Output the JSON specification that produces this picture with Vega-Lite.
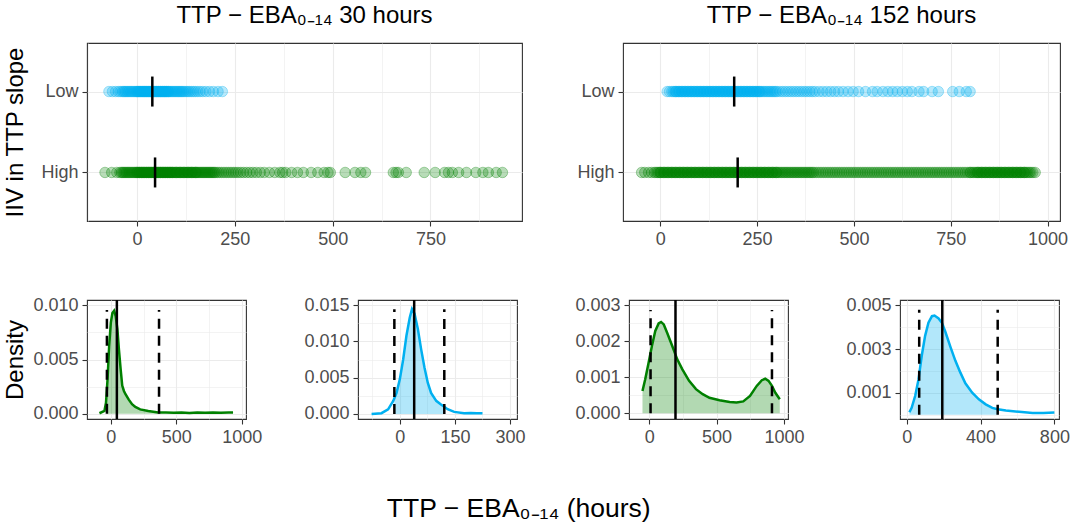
{
  "$schema": "https://vega.github.io/schema/vega-lite/v6.json",
  "background": "white",
  "padding": {"left": 3, "top": 3, "right": 0, "bottom": 0},
  "title": {"text": "TTP − EBA₀₋₁₄ (hours)", "orient": "bottom", "anchor": "middle", "offset": 49, "dx": -18, "fontSize": 26.5, "fontWeight": "normal", "font": "Liberation Sans", "color": "#000000"},
  "datasets": {
    "tl": [{"iiv":"Low","ttp":-72},{"iiv":"Low","ttp":-63},{"iiv":"Low","ttp":-55},{"iiv":"Low","ttp":-48},{"iiv":"Low","ttp":-43},{"iiv":"Low","ttp":-38},
      {"iiv":"Low","ttp":-35},{"iiv":"Low","ttp":-32},{"iiv":"Low","ttp":-29},{"iiv":"Low","ttp":-26},{"iiv":"Low","ttp":-23},{"iiv":"Low","ttp":-20},{"iiv":"Low","ttp":-17},{"iiv":"Low","ttp":-14},{"iiv":"Low","ttp":-11},{"iiv":"Low","ttp":-8},{"iiv":"Low","ttp":-5},{"iiv":"Low","ttp":-2},{"iiv":"Low","ttp":1},{"iiv":"Low","ttp":4},{"iiv":"Low","ttp":7},{"iiv":"Low","ttp":10},{"iiv":"Low","ttp":13},{"iiv":"Low","ttp":16},{"iiv":"Low","ttp":19},{"iiv":"Low","ttp":22},{"iiv":"Low","ttp":25},{"iiv":"Low","ttp":28},{"iiv":"Low","ttp":31},{"iiv":"Low","ttp":34},{"iiv":"Low","ttp":37},{"iiv":"Low","ttp":40},{"iiv":"Low","ttp":43},{"iiv":"Low","ttp":46},{"iiv":"Low","ttp":49},{"iiv":"Low","ttp":52},{"iiv":"Low","ttp":55},{"iiv":"Low","ttp":58},{"iiv":"Low","ttp":61},{"iiv":"Low","ttp":64},{"iiv":"Low","ttp":67},{"iiv":"Low","ttp":70},{"iiv":"Low","ttp":73},{"iiv":"Low","ttp":76},{"iiv":"Low","ttp":79},{"iiv":"Low","ttp":82},{"iiv":"Low","ttp":85},{"iiv":"Low","ttp":88},{"iiv":"Low","ttp":91},{"iiv":"Low","ttp":94},{"iiv":"Low","ttp":97},{"iiv":"Low","ttp":100},{"iiv":"Low","ttp":103},{"iiv":"Low","ttp":106},{"iiv":"Low","ttp":109},{"iiv":"Low","ttp":112},{"iiv":"Low","ttp":115},{"iiv":"Low","ttp":118},
      {"iiv":"Low","ttp":0},{"iiv":"Low","ttp":5},{"iiv":"Low","ttp":10},{"iiv":"Low","ttp":15},{"iiv":"Low","ttp":20},{"iiv":"Low","ttp":25},{"iiv":"Low","ttp":30},{"iiv":"Low","ttp":35},{"iiv":"Low","ttp":40},{"iiv":"Low","ttp":45},{"iiv":"Low","ttp":50},{"iiv":"Low","ttp":55},{"iiv":"Low","ttp":60},{"iiv":"Low","ttp":65},{"iiv":"Low","ttp":70},{"iiv":"Low","ttp":75},{"iiv":"Low","ttp":80},
      {"iiv":"Low","ttp":122},{"iiv":"Low","ttp":126},{"iiv":"Low","ttp":130},{"iiv":"Low","ttp":134},{"iiv":"Low","ttp":139},{"iiv":"Low","ttp":144},{"iiv":"Low","ttp":149},{"iiv":"Low","ttp":155},{"iiv":"Low","ttp":161},{"iiv":"Low","ttp":168},{"iiv":"Low","ttp":176},{"iiv":"Low","ttp":185},{"iiv":"Low","ttp":195},{"iiv":"Low","ttp":207},{"iiv":"Low","ttp":218},
      {"iiv":"High","ttp":-82},{"iiv":"High","ttp":-65},{"iiv":"High","ttp":-52},{"iiv":"High","ttp":-44},
      {"iiv":"High","ttp":-40},{"iiv":"High","ttp":-37},{"iiv":"High","ttp":-34},{"iiv":"High","ttp":-31},{"iiv":"High","ttp":-28},{"iiv":"High","ttp":-25},{"iiv":"High","ttp":-22},{"iiv":"High","ttp":-19},{"iiv":"High","ttp":-16},{"iiv":"High","ttp":-13},{"iiv":"High","ttp":-10},{"iiv":"High","ttp":-7},{"iiv":"High","ttp":-4},{"iiv":"High","ttp":-1},{"iiv":"High","ttp":2},{"iiv":"High","ttp":5},{"iiv":"High","ttp":8},{"iiv":"High","ttp":11},{"iiv":"High","ttp":14},{"iiv":"High","ttp":17},{"iiv":"High","ttp":20},{"iiv":"High","ttp":23},{"iiv":"High","ttp":26},{"iiv":"High","ttp":29},{"iiv":"High","ttp":32},{"iiv":"High","ttp":35},{"iiv":"High","ttp":38},{"iiv":"High","ttp":41},{"iiv":"High","ttp":44},{"iiv":"High","ttp":47},{"iiv":"High","ttp":50},{"iiv":"High","ttp":53},{"iiv":"High","ttp":56},{"iiv":"High","ttp":59},{"iiv":"High","ttp":62},{"iiv":"High","ttp":65},{"iiv":"High","ttp":68},{"iiv":"High","ttp":71},{"iiv":"High","ttp":74},{"iiv":"High","ttp":77},{"iiv":"High","ttp":80},{"iiv":"High","ttp":83},{"iiv":"High","ttp":86},{"iiv":"High","ttp":89},{"iiv":"High","ttp":92},{"iiv":"High","ttp":95},{"iiv":"High","ttp":98},{"iiv":"High","ttp":101},{"iiv":"High","ttp":104},{"iiv":"High","ttp":107},{"iiv":"High","ttp":110},{"iiv":"High","ttp":113},{"iiv":"High","ttp":116},{"iiv":"High","ttp":119},{"iiv":"High","ttp":122},{"iiv":"High","ttp":125},{"iiv":"High","ttp":128},{"iiv":"High","ttp":131},{"iiv":"High","ttp":134},{"iiv":"High","ttp":137},{"iiv":"High","ttp":140},{"iiv":"High","ttp":143},{"iiv":"High","ttp":146},{"iiv":"High","ttp":149},{"iiv":"High","ttp":152},{"iiv":"High","ttp":155},{"iiv":"High","ttp":158},{"iiv":"High","ttp":161},{"iiv":"High","ttp":164},{"iiv":"High","ttp":167},{"iiv":"High","ttp":170},{"iiv":"High","ttp":173},{"iiv":"High","ttp":176},{"iiv":"High","ttp":179},{"iiv":"High","ttp":182},{"iiv":"High","ttp":185},{"iiv":"High","ttp":188},{"iiv":"High","ttp":191},{"iiv":"High","ttp":194},{"iiv":"High","ttp":197},{"iiv":"High","ttp":200},
      {"iiv":"High","ttp":0},{"iiv":"High","ttp":6},{"iiv":"High","ttp":12},{"iiv":"High","ttp":18},{"iiv":"High","ttp":24},{"iiv":"High","ttp":30},{"iiv":"High","ttp":36},{"iiv":"High","ttp":42},{"iiv":"High","ttp":48},{"iiv":"High","ttp":54},{"iiv":"High","ttp":60},{"iiv":"High","ttp":66},{"iiv":"High","ttp":72},{"iiv":"High","ttp":78},{"iiv":"High","ttp":84},{"iiv":"High","ttp":90},{"iiv":"High","ttp":100},{"iiv":"High","ttp":110},{"iiv":"High","ttp":120},{"iiv":"High","ttp":130},{"iiv":"High","ttp":140},{"iiv":"High","ttp":150},
      {"iiv":"High","ttp":205},{"iiv":"High","ttp":210},{"iiv":"High","ttp":216},{"iiv":"High","ttp":222},{"iiv":"High","ttp":228},{"iiv":"High","ttp":234},{"iiv":"High","ttp":240},{"iiv":"High","ttp":246},{"iiv":"High","ttp":252},{"iiv":"High","ttp":258},{"iiv":"High","ttp":265},
      {"iiv":"High","ttp":272},{"iiv":"High","ttp":280},{"iiv":"High","ttp":288},{"iiv":"High","ttp":296},{"iiv":"High","ttp":305},{"iiv":"High","ttp":315},{"iiv":"High","ttp":325},{"iiv":"High","ttp":338},{"iiv":"High","ttp":352},{"iiv":"High","ttp":365},{"iiv":"High","ttp":372},{"iiv":"High","ttp":380},{"iiv":"High","ttp":395},{"iiv":"High","ttp":410},{"iiv":"High","ttp":425},{"iiv":"High","ttp":445},{"iiv":"High","ttp":462},{"iiv":"High","ttp":478},{"iiv":"High","ttp":488},{"iiv":"High","ttp":494},{"iiv":"High","ttp":532},{"iiv":"High","ttp":557},{"iiv":"High","ttp":572},{"iiv":"High","ttp":584},{"iiv":"High","ttp":655},{"iiv":"High","ttp":662},{"iiv":"High","ttp":668},{"iiv":"High","ttp":688},{"iiv":"High","ttp":734},{"iiv":"High","ttp":762},{"iiv":"High","ttp":786},{"iiv":"High","ttp":796},{"iiv":"High","ttp":806},{"iiv":"High","ttp":822},{"iiv":"High","ttp":842},{"iiv":"High","ttp":866},{"iiv":"High","ttp":884},{"iiv":"High","ttp":898},{"iiv":"High","ttp":918},{"iiv":"High","ttp":934}],
    "tr": [{"iiv":"Low","ttp":18},{"iiv":"Low","ttp":24},
      {"iiv":"Low","ttp":30},{"iiv":"Low","ttp":34},{"iiv":"Low","ttp":38},{"iiv":"Low","ttp":42},{"iiv":"Low","ttp":46},{"iiv":"Low","ttp":50},{"iiv":"Low","ttp":54},{"iiv":"Low","ttp":58},{"iiv":"Low","ttp":62},{"iiv":"Low","ttp":66},{"iiv":"Low","ttp":70},{"iiv":"Low","ttp":74},{"iiv":"Low","ttp":78},{"iiv":"Low","ttp":82},{"iiv":"Low","ttp":86},{"iiv":"Low","ttp":90},{"iiv":"Low","ttp":94},{"iiv":"Low","ttp":98},{"iiv":"Low","ttp":102},{"iiv":"Low","ttp":106},{"iiv":"Low","ttp":110},{"iiv":"Low","ttp":114},{"iiv":"Low","ttp":118},{"iiv":"Low","ttp":122},{"iiv":"Low","ttp":126},{"iiv":"Low","ttp":130},{"iiv":"Low","ttp":134},{"iiv":"Low","ttp":138},{"iiv":"Low","ttp":142},{"iiv":"Low","ttp":146},{"iiv":"Low","ttp":150},{"iiv":"Low","ttp":154},{"iiv":"Low","ttp":158},{"iiv":"Low","ttp":162},{"iiv":"Low","ttp":166},{"iiv":"Low","ttp":170},{"iiv":"Low","ttp":174},{"iiv":"Low","ttp":178},{"iiv":"Low","ttp":182},{"iiv":"Low","ttp":186},{"iiv":"Low","ttp":190},{"iiv":"Low","ttp":194},{"iiv":"Low","ttp":198},{"iiv":"Low","ttp":202},{"iiv":"Low","ttp":206},{"iiv":"Low","ttp":210},{"iiv":"Low","ttp":214},{"iiv":"Low","ttp":218},{"iiv":"Low","ttp":222},{"iiv":"Low","ttp":226},{"iiv":"Low","ttp":230},{"iiv":"Low","ttp":234},{"iiv":"Low","ttp":238},{"iiv":"Low","ttp":242},{"iiv":"Low","ttp":246},{"iiv":"Low","ttp":250},{"iiv":"Low","ttp":254},{"iiv":"Low","ttp":258},{"iiv":"Low","ttp":262},{"iiv":"Low","ttp":266},{"iiv":"Low","ttp":270},{"iiv":"Low","ttp":274},{"iiv":"Low","ttp":278},{"iiv":"Low","ttp":282},{"iiv":"Low","ttp":286},{"iiv":"Low","ttp":290},{"iiv":"Low","ttp":294},{"iiv":"Low","ttp":298},
      {"iiv":"Low","ttp":40},{"iiv":"Low","ttp":48},{"iiv":"Low","ttp":56},{"iiv":"Low","ttp":64},{"iiv":"Low","ttp":72},{"iiv":"Low","ttp":80},{"iiv":"Low","ttp":88},{"iiv":"Low","ttp":96},{"iiv":"Low","ttp":104},{"iiv":"Low","ttp":112},{"iiv":"Low","ttp":120},{"iiv":"Low","ttp":128},{"iiv":"Low","ttp":136},{"iiv":"Low","ttp":144},{"iiv":"Low","ttp":152},{"iiv":"Low","ttp":160},{"iiv":"Low","ttp":168},{"iiv":"Low","ttp":176},{"iiv":"Low","ttp":184},{"iiv":"Low","ttp":192},{"iiv":"Low","ttp":200},{"iiv":"Low","ttp":208},{"iiv":"Low","ttp":216},{"iiv":"Low","ttp":224},{"iiv":"Low","ttp":232},{"iiv":"Low","ttp":240},{"iiv":"Low","ttp":248},{"iiv":"Low","ttp":256},
      {"iiv":"Low","ttp":302},{"iiv":"Low","ttp":309},{"iiv":"Low","ttp":316},{"iiv":"Low","ttp":323},{"iiv":"Low","ttp":330},{"iiv":"Low","ttp":337},{"iiv":"Low","ttp":344},{"iiv":"Low","ttp":351},{"iiv":"Low","ttp":358},{"iiv":"Low","ttp":365},{"iiv":"Low","ttp":372},{"iiv":"Low","ttp":379},{"iiv":"Low","ttp":386},{"iiv":"Low","ttp":393},{"iiv":"Low","ttp":400},{"iiv":"Low","ttp":410},{"iiv":"Low","ttp":420},{"iiv":"Low","ttp":430},{"iiv":"Low","ttp":440},{"iiv":"Low","ttp":450},{"iiv":"Low","ttp":460},
      {"iiv":"Low","ttp":472},{"iiv":"Low","ttp":485},{"iiv":"Low","ttp":498},{"iiv":"Low","ttp":512},{"iiv":"Low","ttp":530},{"iiv":"Low","ttp":548},{"iiv":"Low","ttp":560},{"iiv":"Low","ttp":575},{"iiv":"Low","ttp":588},{"iiv":"Low","ttp":600},{"iiv":"Low","ttp":612},{"iiv":"Low","ttp":625},{"iiv":"Low","ttp":638},{"iiv":"Low","ttp":650},{"iiv":"Low","ttp":668},{"iiv":"Low","ttp":680},{"iiv":"Low","ttp":702},{"iiv":"Low","ttp":718},{"iiv":"Low","ttp":755},{"iiv":"Low","ttp":772},{"iiv":"Low","ttp":790},{"iiv":"Low","ttp":800},
      {"iiv":"High","ttp":-48},{"iiv":"High","ttp":-40},{"iiv":"High","ttp":-30},{"iiv":"High","ttp":-22},
      {"iiv":"High","ttp":-15},{"iiv":"High","ttp":-11},{"iiv":"High","ttp":-7},{"iiv":"High","ttp":-3},{"iiv":"High","ttp":1},{"iiv":"High","ttp":5},{"iiv":"High","ttp":9},{"iiv":"High","ttp":13},{"iiv":"High","ttp":17},{"iiv":"High","ttp":21},{"iiv":"High","ttp":25},{"iiv":"High","ttp":29},{"iiv":"High","ttp":33},{"iiv":"High","ttp":37},{"iiv":"High","ttp":41},{"iiv":"High","ttp":45},{"iiv":"High","ttp":49},{"iiv":"High","ttp":53},{"iiv":"High","ttp":57},{"iiv":"High","ttp":61},{"iiv":"High","ttp":65},{"iiv":"High","ttp":69},{"iiv":"High","ttp":73},{"iiv":"High","ttp":77},{"iiv":"High","ttp":81},{"iiv":"High","ttp":85},{"iiv":"High","ttp":89},{"iiv":"High","ttp":93},{"iiv":"High","ttp":97},{"iiv":"High","ttp":101},{"iiv":"High","ttp":105},{"iiv":"High","ttp":109},{"iiv":"High","ttp":113},{"iiv":"High","ttp":117},{"iiv":"High","ttp":121},{"iiv":"High","ttp":125},{"iiv":"High","ttp":129},{"iiv":"High","ttp":133},{"iiv":"High","ttp":137},{"iiv":"High","ttp":141},{"iiv":"High","ttp":145},{"iiv":"High","ttp":149},{"iiv":"High","ttp":153},{"iiv":"High","ttp":157},{"iiv":"High","ttp":161},{"iiv":"High","ttp":165},{"iiv":"High","ttp":169},{"iiv":"High","ttp":173},{"iiv":"High","ttp":177},{"iiv":"High","ttp":181},{"iiv":"High","ttp":185},{"iiv":"High","ttp":189},{"iiv":"High","ttp":193},{"iiv":"High","ttp":197},{"iiv":"High","ttp":201},{"iiv":"High","ttp":205},{"iiv":"High","ttp":209},{"iiv":"High","ttp":213},{"iiv":"High","ttp":217},{"iiv":"High","ttp":221},{"iiv":"High","ttp":225},{"iiv":"High","ttp":229},{"iiv":"High","ttp":233},{"iiv":"High","ttp":237},{"iiv":"High","ttp":241},{"iiv":"High","ttp":245},{"iiv":"High","ttp":249},{"iiv":"High","ttp":253},{"iiv":"High","ttp":257},{"iiv":"High","ttp":261},{"iiv":"High","ttp":265},{"iiv":"High","ttp":269},{"iiv":"High","ttp":273},{"iiv":"High","ttp":277},{"iiv":"High","ttp":281},{"iiv":"High","ttp":285},{"iiv":"High","ttp":289},{"iiv":"High","ttp":293},{"iiv":"High","ttp":297},{"iiv":"High","ttp":301},{"iiv":"High","ttp":305},{"iiv":"High","ttp":309},{"iiv":"High","ttp":313},{"iiv":"High","ttp":317},{"iiv":"High","ttp":321},{"iiv":"High","ttp":325},{"iiv":"High","ttp":329},{"iiv":"High","ttp":333},{"iiv":"High","ttp":337},{"iiv":"High","ttp":341},{"iiv":"High","ttp":345},{"iiv":"High","ttp":349},{"iiv":"High","ttp":353},{"iiv":"High","ttp":357},{"iiv":"High","ttp":361},{"iiv":"High","ttp":365},{"iiv":"High","ttp":369},{"iiv":"High","ttp":373},{"iiv":"High","ttp":377},{"iiv":"High","ttp":381},{"iiv":"High","ttp":385},{"iiv":"High","ttp":389},{"iiv":"High","ttp":393},{"iiv":"High","ttp":397},
      {"iiv":"High","ttp":0},{"iiv":"High","ttp":10},{"iiv":"High","ttp":20},{"iiv":"High","ttp":30},{"iiv":"High","ttp":40},{"iiv":"High","ttp":50},{"iiv":"High","ttp":60},{"iiv":"High","ttp":70},{"iiv":"High","ttp":80},{"iiv":"High","ttp":90},{"iiv":"High","ttp":100},{"iiv":"High","ttp":110},{"iiv":"High","ttp":120},{"iiv":"High","ttp":130},{"iiv":"High","ttp":140},{"iiv":"High","ttp":150},{"iiv":"High","ttp":160},{"iiv":"High","ttp":170},{"iiv":"High","ttp":180},{"iiv":"High","ttp":190},{"iiv":"High","ttp":200},{"iiv":"High","ttp":210},{"iiv":"High","ttp":220},{"iiv":"High","ttp":230},{"iiv":"High","ttp":240},{"iiv":"High","ttp":250},{"iiv":"High","ttp":260},{"iiv":"High","ttp":270},{"iiv":"High","ttp":280},{"iiv":"High","ttp":290},{"iiv":"High","ttp":300},
      {"iiv":"High","ttp":403},{"iiv":"High","ttp":409},{"iiv":"High","ttp":415},{"iiv":"High","ttp":421},{"iiv":"High","ttp":427},{"iiv":"High","ttp":433},{"iiv":"High","ttp":439},{"iiv":"High","ttp":445},{"iiv":"High","ttp":451},{"iiv":"High","ttp":457},{"iiv":"High","ttp":463},{"iiv":"High","ttp":469},{"iiv":"High","ttp":475},{"iiv":"High","ttp":481},{"iiv":"High","ttp":487},{"iiv":"High","ttp":493},{"iiv":"High","ttp":499},{"iiv":"High","ttp":505},{"iiv":"High","ttp":511},{"iiv":"High","ttp":517},{"iiv":"High","ttp":523},{"iiv":"High","ttp":529},{"iiv":"High","ttp":535},{"iiv":"High","ttp":541},{"iiv":"High","ttp":547},{"iiv":"High","ttp":553},{"iiv":"High","ttp":559},{"iiv":"High","ttp":565},{"iiv":"High","ttp":571},{"iiv":"High","ttp":577},{"iiv":"High","ttp":583},{"iiv":"High","ttp":589},{"iiv":"High","ttp":595},{"iiv":"High","ttp":601},{"iiv":"High","ttp":607},{"iiv":"High","ttp":613},{"iiv":"High","ttp":619},{"iiv":"High","ttp":625},{"iiv":"High","ttp":631},{"iiv":"High","ttp":637},{"iiv":"High","ttp":643},{"iiv":"High","ttp":649},{"iiv":"High","ttp":655},{"iiv":"High","ttp":661},{"iiv":"High","ttp":667},{"iiv":"High","ttp":673},{"iiv":"High","ttp":679},{"iiv":"High","ttp":685},{"iiv":"High","ttp":691},{"iiv":"High","ttp":697},{"iiv":"High","ttp":703},{"iiv":"High","ttp":709},{"iiv":"High","ttp":715},{"iiv":"High","ttp":721},{"iiv":"High","ttp":727},{"iiv":"High","ttp":733},{"iiv":"High","ttp":739},{"iiv":"High","ttp":745},{"iiv":"High","ttp":751},{"iiv":"High","ttp":757},{"iiv":"High","ttp":763},{"iiv":"High","ttp":769},{"iiv":"High","ttp":775},{"iiv":"High","ttp":781},{"iiv":"High","ttp":787},{"iiv":"High","ttp":793},{"iiv":"High","ttp":799},
      {"iiv":"High","ttp":801},{"iiv":"High","ttp":805},{"iiv":"High","ttp":809},{"iiv":"High","ttp":813},{"iiv":"High","ttp":817},{"iiv":"High","ttp":821},{"iiv":"High","ttp":825},{"iiv":"High","ttp":829},{"iiv":"High","ttp":833},{"iiv":"High","ttp":837},{"iiv":"High","ttp":841},{"iiv":"High","ttp":845},{"iiv":"High","ttp":849},{"iiv":"High","ttp":853},{"iiv":"High","ttp":857},{"iiv":"High","ttp":861},{"iiv":"High","ttp":865},{"iiv":"High","ttp":869},{"iiv":"High","ttp":873},{"iiv":"High","ttp":877},{"iiv":"High","ttp":881},{"iiv":"High","ttp":885},{"iiv":"High","ttp":889},{"iiv":"High","ttp":893},{"iiv":"High","ttp":897},{"iiv":"High","ttp":901},{"iiv":"High","ttp":905},{"iiv":"High","ttp":909},{"iiv":"High","ttp":913},{"iiv":"High","ttp":917},{"iiv":"High","ttp":921},{"iiv":"High","ttp":925},{"iiv":"High","ttp":929},{"iiv":"High","ttp":933},{"iiv":"High","ttp":937},{"iiv":"High","ttp":941},{"iiv":"High","ttp":945},{"iiv":"High","ttp":949},
      {"iiv":"High","ttp":820},{"iiv":"High","ttp":830},{"iiv":"High","ttp":840},{"iiv":"High","ttp":850},{"iiv":"High","ttp":860},{"iiv":"High","ttp":870},{"iiv":"High","ttp":880},{"iiv":"High","ttp":890},{"iiv":"High","ttp":900},{"iiv":"High","ttp":910},{"iiv":"High","ttp":920},{"iiv":"High","ttp":930},{"iiv":"High","ttp":940},
      {"iiv":"High","ttp":953},{"iiv":"High","ttp":957},{"iiv":"High","ttp":962},{"iiv":"High","ttp":968}],
    "d1": [{"x":-87,"d":0.00004},{"x":-49,"d":0.00025},{"x":-37,"d":0.001},{"x":-30,"d":0.00228},{"x":-25,"d":0.0032},{"x":-13,"d":0.0062},{"x":0,"d":0.0084},{"x":12,"d":0.0093},{"x":25,"d":0.0095},{"x":37,"d":0.009},{"x":50,"d":0.0078},{"x":62,"d":0.0059},{"x":75,"d":0.0041},{"x":87,"d":0.0026},{"x":100,"d":0.0021},{"x":112,"d":0.0018},{"x":137,"d":0.0013},{"x":162,"d":0.00087},{"x":187,"d":0.00062},{"x":224,"d":0.0004},{"x":286,"d":0.00025},{"x":361,"d":0.0001},{"x":368,"d":0.0001},{"x":420,"d":0.00012},{"x":480,"d":0.00008},{"x":540,"d":0.00011},{"x":600,"d":0.00007},{"x":660,"d":0.0001},{"x":720,"d":0.00009},{"x":780,"d":0.00011},{"x":840,"d":0.00009},{"x":900,"d":0.0001},{"x":933,"d":0.0001}],
    "d2": [{"x":-77,"d":0},{"x":-50,"d":0.0001},{"x":-32,"d":0.00064},{"x":-18,"d":0.0018},{"x":-15,"d":0.00217},{"x":-9,"d":0.0029},{"x":0,"d":0.0048},{"x":9,"d":0.0075},{"x":18,"d":0.0108},{"x":27,"d":0.0133},{"x":33,"d":0.01445},{"x":40,"d":0.0138},{"x":49,"d":0.0117},{"x":58,"d":0.0089},{"x":67,"d":0.0064},{"x":76,"d":0.0043},{"x":85,"d":0.0029},{"x":99,"d":0.0018},{"x":112,"d":0.0013},{"x":121,"d":0.00098},{"x":130,"d":0.00065},{"x":148,"d":0.00028},{"x":175,"d":0.0001},{"x":193,"d":0.00013},{"x":210,"d":0.00009},{"x":225,"d":0.0001}],
    "d3": [{"x":-50,"d":0.00062},{"x":-30,"d":0.00094},{"x":-5,"d":0.0014},{"x":20,"d":0.00187},{"x":45,"d":0.00229},{"x":70,"d":0.0025},{"x":88,"d":0.00254},{"x":108,"d":0.00247},{"x":133,"d":0.00224},{"x":171,"d":0.00187},{"x":208,"d":0.0015},{"x":246,"d":0.00122},{"x":296,"d":0.0009},{"x":347,"d":0.00067},{"x":397,"d":0.00053},{"x":447,"d":0.00043},{"x":522,"d":0.00036},{"x":597,"d":0.00031},{"x":648,"d":0.0003},{"x":698,"d":0.00033},{"x":748,"d":0.00048},{"x":798,"d":0.00076},{"x":836,"d":0.00092},{"x":861,"d":0.00096},{"x":886,"d":0.0009},{"x":911,"d":0.00076},{"x":936,"d":0.00057},{"x":969,"d":0.00039}],
    "d4": [{"x":15,"d":0.00011},{"x":27,"d":0.00031},{"x":46,"d":0.00085},{"x":64,"d":0.0016},{"x":82,"d":0.0027},{"x":100,"d":0.0036},{"x":118,"d":0.0042},{"x":137,"d":0.0045},{"x":151,"d":0.00453},{"x":173,"d":0.0044},{"x":191,"d":0.0042},{"x":209,"d":0.0038},{"x":237,"d":0.0031},{"x":264,"d":0.00246},{"x":291,"d":0.00192},{"x":318,"d":0.00143},{"x":355,"d":0.001},{"x":391,"d":0.0007},{"x":428,"d":0.00047},{"x":464,"d":0.00031},{"x":493,"d":0.00025},{"x":537,"d":0.00019},{"x":609,"d":0.00013},{"x":682,"d":0.00008},{"x":740,"d":0.00008},{"x":800,"d":0.0001}]
  },
  "spacing": 46,
  "vconcat": [
    {
      "hconcat": [
        {
          "width": 435, "height": 178,
          "title": {"text": "TTP − EBA₀₋₁₄ 30 hours", "offset": 15},
          "layer": [
            {"data": {"name": "tl"},
             "mark": {"type": "circle", "size": 110, "fillOpacity": 0.28, "strokeOpacity": 0.32, "strokeWidth": 1},
             "encoding": {
               "x": {"field": "ttp", "type": "quantitative", "title": null,
                     "scale": {"domain": [-128, 984], "nice": false, "zero": false},
                     "axis": {"values": [-125, 0, 125, 250, 375, 500, 625, 750, 875], "format": "d", "labelOverlap": false,
                              "labelExpr": "indexof([0,250,500,750], datum.value) >= 0 ? datum.label : ''",
                              "gridWidth": {"condition": {"test": "indexof([0,250,500,750], datum.value) < 0", "value": 0.6}, "value": 1.1},
                              "tickOpacity": {"condition": {"test": "indexof([0,250,500,750], datum.value) < 0", "value": 0}, "value": 1}}},
               "y": {"field": "iiv", "type": "nominal", "title": "IIV in TTP slope",
                     "scale": {"type": "point", "domain": ["Low", "High"], "padding": 0.6},
                     "axis": {"gridWidth": 1.1, "titlePadding": 13, "labelOverlap": false}},
               "color": {"field": "iiv", "type": "nominal", "scale": {"domain": ["Low", "High"], "range": ["#00B0F0", "#008000"]}, "legend": null},
               "stroke": {"field": "iiv", "type": "nominal", "scale": {"domain": ["Low", "High"], "range": ["#00B0F0", "#008000"]}, "legend": null}
             }},
            {"data": {"values": [{"iiv": "Low", "ttp": 39}, {"iiv": "High", "ttp": 46}]},
             "mark": {"type": "tick", "color": "#000000", "opacity": 1, "size": 30, "thickness": 2.5},
             "encoding": {
               "x": {"field": "ttp", "type": "quantitative", "title": null},
               "y": {"field": "iiv", "type": "nominal", "title": "IIV in TTP slope"}
             }}
          ]
        },
        {
          "width": 437, "height": 178,
          "title": {"text": "TTP − EBA₀₋₁₄ 152 hours", "offset": 15},
          "layer": [
            {"data": {"name": "tr"},
             "mark": {"type": "circle", "size": 110, "fillOpacity": 0.28, "strokeOpacity": 0.32, "strokeWidth": 1},
             "encoding": {
               "x": {"field": "ttp", "type": "quantitative", "title": null,
                     "scale": {"domain": [-96, 1032], "nice": false, "zero": false},
                     "axis": {"values": [0, 125, 250, 375, 500, 625, 750, 875, 1000], "format": "d", "labelOverlap": false,
                              "labelExpr": "indexof([0,250,500,750,1000], datum.value) >= 0 ? datum.label : ''",
                              "gridWidth": {"condition": {"test": "indexof([0,250,500,750,1000], datum.value) < 0", "value": 0.6}, "value": 1.1},
                              "tickOpacity": {"condition": {"test": "indexof([0,250,500,750,1000], datum.value) < 0", "value": 0}, "value": 1}}},
               "y": {"field": "iiv", "type": "nominal", "title": null,
                     "scale": {"type": "point", "domain": ["Low", "High"], "padding": 0.6},
                     "axis": {"gridWidth": 1.1, "labelOverlap": false}},
               "color": {"field": "iiv", "type": "nominal", "scale": {"domain": ["Low", "High"], "range": ["#00B0F0", "#008000"]}, "legend": null},
               "stroke": {"field": "iiv", "type": "nominal", "scale": {"domain": ["Low", "High"], "range": ["#00B0F0", "#008000"]}, "legend": null}
             }},
            {"data": {"values": [{"iiv": "Low", "ttp": 191}, {"iiv": "High", "ttp": 200}]},
             "mark": {"type": "tick", "color": "#000000", "opacity": 1, "size": 30, "thickness": 2.5},
             "encoding": {
               "x": {"field": "ttp", "type": "quantitative", "title": null},
               "y": {"field": "iiv", "type": "nominal", "title": null}
             }}
          ]
        }
      ],
      "spacing": 101,
      "bounds": "flush"
    },
    {
      "hconcat": [
        {
          "width": 159, "height": 119,
          "resolve": {"axis": {"x": "independent", "y": "independent"}},
          "layer": [
            {"data": {"name": "d1"}, "transform": [{"filter": {"field": "x", "range": [-30, 368]}}],
             "mark": {"type": "area", "color": "#008000", "opacity": 0.3},
             "encoding": {
               "x": {"field": "x", "type": "quantitative", "title": null,
                     "scale": {"domain": [-182, 1032], "nice": false, "zero": false},
                     "axis": {"orient": "bottom", "values": [0, 500, 1000], "format": "d", "gridWidth": 1.1, "labelOverlap": false}},
               "y": {"field": "d", "type": "quantitative", "title": "Density",
                     "scale": {"domain": [-0.00049, 0.01049], "nice": false, "zero": false},
                     "axis": {"orient": "left", "values": [0, 0.005, 0.01], "format": ".3f", "gridWidth": 1.1, "labelOverlap": false}}
             }},
            {"data": {"name": "d1"},
             "mark": {"type": "line", "color": "#008000", "strokeWidth": 2.5},
             "encoding": {
               "x": {"field": "x", "type": "quantitative", "title": null,
                     "axis": {"orient": "top", "values": [250, 750], "labels": false, "ticks": false, "domain": false, "grid": true, "gridWidth": 0.6, "title": null}},
               "y": {"field": "d", "type": "quantitative", "title": null,
                     "axis": {"orient": "right", "values": [0.0025, 0.0075], "labels": false, "ticks": false, "domain": false, "grid": true, "gridWidth": 0.6, "title": null}}
             }},
            {"data": {"values": [{"stat": "median", "x": 46}]},
             "mark": {"type": "rule", "color": "#000000", "strokeWidth": 2.5},
             "encoding": {"x": {"field": "x", "type": "quantitative", "axis": null}}},
            {"data": {"values": [{"stat": "p2.5", "x": -30, "base": 0, "top": 0.00957}, {"stat": "p97.5", "x": 368, "base": 0, "top": 0.00957}]},
             "mark": {"type": "rule", "color": "#000000", "strokeWidth": 2.5, "strokeDash": [10, 7]},
             "encoding": {
               "x": {"field": "x", "type": "quantitative", "axis": null},
               "y": {"field": "base", "type": "quantitative", "axis": null},
               "y2": {"field": "top"}
             }}
          ]
        },
        {
          "width": 159, "height": 119,
          "resolve": {"axis": {"x": "independent", "y": "independent"}},
          "layer": [
            {"data": {"name": "d2"}, "transform": [{"filter": {"field": "x", "range": [-15, 121]}}],
             "mark": {"type": "area", "color": "#00B0F0", "opacity": 0.3},
             "encoding": {
               "x": {"field": "x", "type": "quantitative", "title": null,
                     "scale": {"domain": [-114, 319], "nice": false, "zero": false},
                     "axis": {"orient": "bottom", "values": [0, 150, 300], "format": "d", "gridWidth": 1.1, "labelOverlap": false}},
               "y": {"field": "d", "type": "quantitative", "title": null,
                     "scale": {"domain": [-0.0007, 0.0157], "nice": false, "zero": false},
                     "axis": {"orient": "left", "values": [0, 0.005, 0.01, 0.015], "format": ".3f", "gridWidth": 1.1, "labelOverlap": false}}
             }},
            {"data": {"name": "d2"},
             "mark": {"type": "line", "color": "#00B0F0", "strokeWidth": 2.5},
             "encoding": {
               "x": {"field": "x", "type": "quantitative", "title": null,
                     "axis": {"orient": "top", "values": [-75, 75, 225], "labels": false, "ticks": false, "domain": false, "grid": true, "gridWidth": 0.6, "title": null}},
               "y": {"field": "d", "type": "quantitative", "title": null,
                     "axis": {"orient": "right", "values": [0.0025, 0.0075, 0.0125], "labels": false, "ticks": false, "domain": false, "grid": true, "gridWidth": 0.6, "title": null}}
             }},
            {"data": {"values": [{"stat": "median", "x": 39}]},
             "mark": {"type": "rule", "color": "#000000", "strokeWidth": 2.5},
             "encoding": {"x": {"field": "x", "type": "quantitative", "axis": null}}},
            {"data": {"values": [{"stat": "p2.5", "x": -15, "base": 0, "top": 0.01442}, {"stat": "p97.5", "x": 121, "base": 0, "top": 0.01442}]},
             "mark": {"type": "rule", "color": "#000000", "strokeWidth": 2.5, "strokeDash": [10, 7]},
             "encoding": {
               "x": {"field": "x", "type": "quantitative", "axis": null},
               "y": {"field": "base", "type": "quantitative", "axis": null},
               "y2": {"field": "top"}
             }}
          ]
        },
        {
          "width": 159, "height": 119,
          "resolve": {"axis": {"x": "independent", "y": "independent"}},
          "layer": [
            {"data": {"name": "d3"},
             "mark": {"type": "area", "color": "#008000", "opacity": 0.3},
             "encoding": {
               "x": {"field": "x", "type": "quantitative", "title": null,
                     "scale": {"domain": [-150, 1030], "nice": false, "zero": false},
                     "axis": {"orient": "bottom", "values": [0, 500, 1000], "format": "d", "gridWidth": 1.1, "labelOverlap": false}},
               "y": {"field": "d", "type": "quantitative", "title": null,
                     "scale": {"domain": [-0.00016, 0.00315], "nice": false, "zero": false},
                     "axis": {"orient": "left", "values": [0, 0.001, 0.002, 0.003], "format": ".3f", "gridWidth": 1.1, "labelOverlap": false}}
             }},
            {"data": {"name": "d3"},
             "mark": {"type": "line", "color": "#008000", "strokeWidth": 2.5},
             "encoding": {
               "x": {"field": "x", "type": "quantitative", "title": null,
                     "axis": {"orient": "top", "values": [250, 750], "labels": false, "ticks": false, "domain": false, "grid": true, "gridWidth": 0.6, "title": null}},
               "y": {"field": "d", "type": "quantitative", "title": null,
                     "axis": {"orient": "right", "values": [0.0005, 0.0015, 0.0025], "labels": false, "ticks": false, "domain": false, "grid": true, "gridWidth": 0.6, "title": null}}
             }},
            {"data": {"values": [{"stat": "median", "x": 195}]},
             "mark": {"type": "rule", "color": "#000000", "strokeWidth": 2.5},
             "encoding": {"x": {"field": "x", "type": "quantitative", "axis": null}}},
            {"data": {"values": [{"stat": "p2.5", "x": 10, "base": 0, "top": 0.00287}, {"stat": "p97.5", "x": 911, "base": 0, "top": 0.00287}]},
             "mark": {"type": "rule", "color": "#000000", "strokeWidth": 2.5, "strokeDash": [10, 7]},
             "encoding": {
               "x": {"field": "x", "type": "quantitative", "axis": null},
               "y": {"field": "base", "type": "quantitative", "axis": null},
               "y2": {"field": "top"}
             }}
          ]
        },
        {
          "width": 159, "height": 119,
          "resolve": {"axis": {"x": "independent", "y": "independent"}},
          "layer": [
            {"data": {"name": "d4"}, "transform": [{"filter": {"field": "x", "range": [15, 493]}}],
             "mark": {"type": "area", "color": "#00B0F0", "opacity": 0.3},
             "encoding": {
               "x": {"field": "x", "type": "quantitative", "title": null,
                     "scale": {"domain": [-36, 825], "nice": false, "zero": false},
                     "axis": {"orient": "bottom", "values": [0, 400, 800], "format": "d", "gridWidth": 1.1, "labelOverlap": false}},
               "y": {"field": "d", "type": "quantitative", "title": null,
                     "scale": {"domain": [-0.0002, 0.00524], "nice": false, "zero": false},
                     "axis": {"orient": "left", "values": [0.001, 0.003, 0.005], "format": ".3f", "gridWidth": 1.1, "labelOverlap": false}}
             }},
            {"data": {"name": "d4"},
             "mark": {"type": "line", "color": "#00B0F0", "strokeWidth": 2.5},
             "encoding": {
               "x": {"field": "x", "type": "quantitative", "title": null,
                     "axis": {"orient": "top", "values": [200, 600], "labels": false, "ticks": false, "domain": false, "grid": true, "gridWidth": 0.6, "title": null}},
               "y": {"field": "d", "type": "quantitative", "title": null,
                     "axis": {"orient": "right", "values": [0, 0.002, 0.004], "labels": false, "ticks": false, "domain": false, "grid": true, "gridWidth": 0.6, "title": null}}
             }},
            {"data": {"values": [{"stat": "median", "x": 193}]},
             "mark": {"type": "rule", "color": "#000000", "strokeWidth": 2.5},
             "encoding": {"x": {"field": "x", "type": "quantitative", "axis": null}}},
            {"data": {"values": [{"stat": "p2.5", "x": 68, "base": 0, "top": 0.0048}, {"stat": "p97.5", "x": 493, "base": 0, "top": 0.0048}]},
             "mark": {"type": "rule", "color": "#000000", "strokeWidth": 2.5, "strokeDash": [10, 7]},
             "encoding": {
               "x": {"field": "x", "type": "quantitative", "axis": null},
               "y": {"field": "base", "type": "quantitative", "axis": null},
               "y2": {"field": "top"}
             }}
          ]
        }
      ],
      "spacing": 112,
      "bounds": "flush"
    }
  ],
  "config": {
    "font": "Liberation Sans",
    "view": {"stroke": "#333333", "strokeWidth": 1.1},
    "axis": {
      "domain": false, "grid": true, "gridColor": "#EBEBEB",
      "tickColor": "#333333", "tickSize": 5, "tickWidth": 1.1,
      "labelColor": "#4D4D4D", "labelFontSize": 18, "labelFont": "Liberation Sans", "labelPadding": 4,
      "labelFlush": false, "labelOverlap": false,
      "titleFont": "Liberation Sans", "titleFontSize": 24, "titleFontWeight": "normal", "titleColor": "#000000", "titlePadding": 5
    },
    "title": {"font": "Liberation Sans", "fontSize": 24, "fontWeight": "normal", "color": "#000000"}
  }
}
